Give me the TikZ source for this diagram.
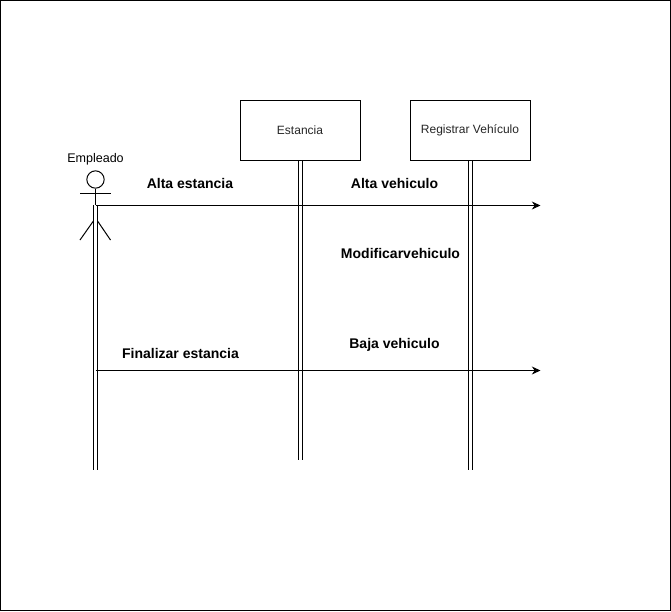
\documentclass[tikz,border=0pt]{standalone}
\usepackage{fontspec}
\setmainfont{Liberation Sans}
\usepackage{tikz}
\usetikzlibrary{arrows.meta,positioning}

\begin{document}
\begin{tikzpicture}[
        x=0.75pt, y=-0.75pt,
        line width=0.75pt,
        class/.style={rectangle, draw, fill=white, minimum width=90pt, minimum height=45pt,
            inner sep=0pt, font=\fontsize{9}{11}\selectfont, text=black!85},
        lifeline/.style={double, double distance=2.6pt, line width=0.8pt},
        message/.style={-{Stealth[length=6.5pt,width=6pt]}},
        msglabel/.style={font=\fontsize{10.5}{12}\selectfont\bfseries, inner sep=0pt},
        actorlabel/.style={font=\fontsize{9.4}{11}\selectfont, inner sep=0pt},
    ]
        \draw (0.5,0.5) rectangle (670.5,610.5);

        % objects
        \node[class] (estancia) at (300,130) {Estancia};
        \node[class] (registrar) at (470,130) {Registrar Vehículo};

        % actor
        \node[actorlabel] (empleado) at (95.5,159.5) {Empleado};
        \node[circle, draw, minimum size=13pt, inner sep=0pt] (head) at (95.5,179.5) {};
        \coordinate (neck) at (95.5,205);
        \coordinate (hip) at (95.5,218);
        \coordinate (armL) at (80,193.5);
        \coordinate (armR) at (110.5,193.5);
        \coordinate (footL) at (80,240);
        \coordinate (footR) at (110.5,240);
        \draw (head.south) -- (hip);
        \draw (armL) -- (armR);
        \draw (footL) -- (hip) -- (footR);

        % lifelines
        \coordinate (endA) at (95.5,470);
        \coordinate (endE) at (300.5,460);
        \coordinate (endR) at (470.5,470);
        \draw[lifeline] (neck) -- (endA);
        \draw[lifeline] ([xshift=0.375pt]estancia.south) -- (endE);
        \draw[lifeline] ([xshift=0.375pt]registrar.south) -- (endR);

        % messages
        \coordinate (from1) at (95.5,205.5);
        \coordinate (to1) at (540.5,205.5);
        \coordinate (from2) at (95.5,370.5);
        \coordinate (to2) at (540.5,370.5);
        \draw[message] (from1) -- (to1);
        \draw[message] (from2) -- (to2);

        \node[msglabel] (altaest) at (190,183.5) {Alta estancia};
        \node[msglabel] (altaveh) at (394.5,183.5) {Alta vehiculo};
        \node[msglabel] (modveh) at (400.5,253.5) {Modificarvehiculo};
        \node[msglabel] (finest) at (180.5,353.5) {Finalizar estancia};
        \node[msglabel] (bajaveh) at (394.5,344.5) {Baja vehiculo};
    \end{tikzpicture}
\end{document}
